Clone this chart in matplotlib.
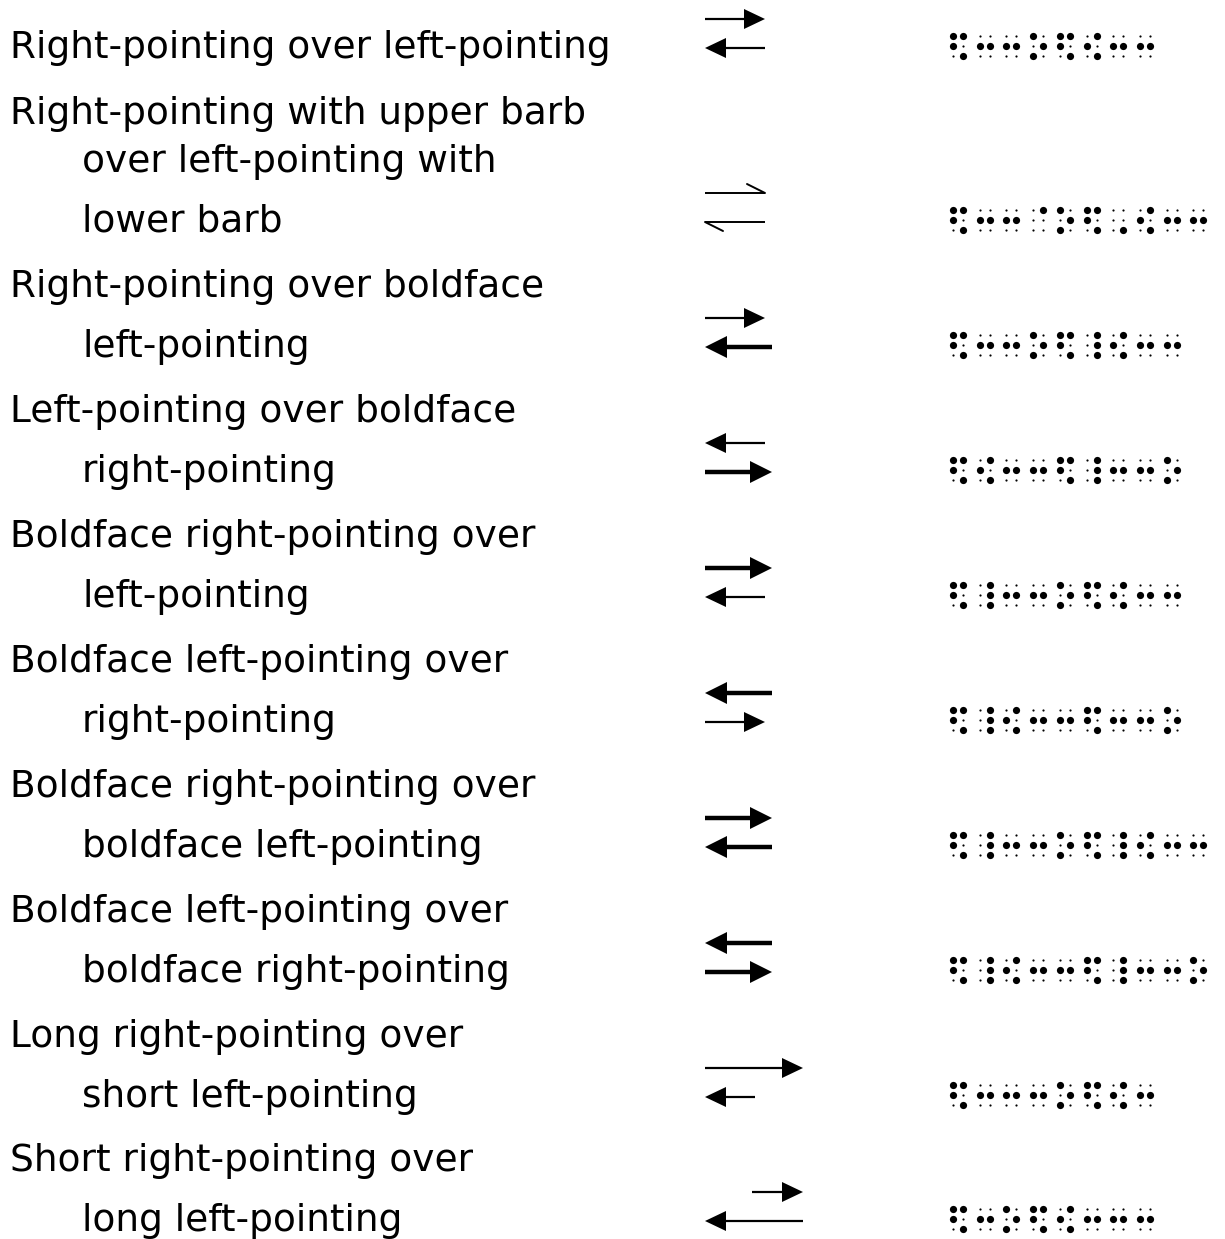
import matplotlib
matplotlib.use("Agg")
import matplotlib.pyplot as plt
from matplotlib.patches import Polygon

# ---------------- data ----------------
labels = [
    ["Right-pointing over left-pointing"],
    ["Right-pointing with upper barb", "over left-pointing with", "lower barb"],
    ["Right-pointing over boldface", "left-pointing"],
    ["Left-pointing over boldface", "right-pointing"],
    ["Boldface right-pointing over", "left-pointing"],
    ["Boldface left-pointing over", "right-pointing"],
    ["Boldface right-pointing over", "boldface left-pointing"],
    ["Boldface left-pointing over", "boldface right-pointing"],
    ["Long right-pointing over", "short left-pointing"],
    ["Short right-pointing over", "long left-pointing"],
]
top_dir = ["R", "R", "R", "L", "R", "L", "R", "L", "R", "R"]
top_style = ["plain", "harpoon", "plain", "plain", "bold", "bold", "bold", "bold", "plain", "plain"]
top_len = ["std", "std", "std", "std", "std", "std", "std", "std", "long", "short"]
bot_dir = ["L", "L", "L", "R", "L", "R", "L", "R", "L", "L"]
bot_style = ["plain", "harpoon", "bold", "bold", "plain", "plain", "bold", "bold", "plain", "plain"]
bot_len = ["std", "std", "std", "std", "std", "std", "std", "std", "short", "long"]
braille = [
    "⠫⠒⠒⠕⠫⠪⠒⠒",
    "⠫⠒⠒⠈⠕⠫⠠⠪⠒⠒",
    "⠫⠒⠒⠕⠫⠸⠪⠒⠒",
    "⠫⠪⠒⠒⠫⠸⠒⠒⠕",
    "⠫⠸⠒⠒⠕⠫⠪⠒⠒",
    "⠫⠸⠪⠒⠒⠫⠒⠒⠕",
    "⠫⠸⠒⠒⠕⠫⠸⠪⠒⠒",
    "⠫⠸⠪⠒⠒⠫⠸⠒⠒⠕",
    "⠫⠒⠒⠒⠕⠫⠪⠒",
    "⠫⠒⠕⠫⠪⠒⠒⠒",
]

# ---------------- layout ----------------
W, H = 1225, 1239
fig = plt.figure(figsize=(W / 100, H / 100), dpi=100)
ax = fig.add_axes([0, 0, 1, 1])
ax.set_xlim(0, W)
ax.set_ylim(H, 0)
ax.axis("off")

row_y = [46, 220, 345, 470, 595, 720, 845, 970, 1095, 1219]
FS = 27
X0, XIND = 10, 82

# text
for i, lines in enumerate(labels):
    n = len(lines)
    if n == 3:
        ys = [row_y[i] - 108, row_y[i] - 60, row_y[i]]
    else:
        ys = [row_y[i] - 60 * (n - 1 - k) for k in range(n)]
    for k, (t, y) in enumerate(zip(lines, ys)):
        ax.text(X0 if k == 0 else XIND, y + 2, t, fontsize=FS, family="DejaVu Sans",
                va="center", ha="left", color="black")

# arrows
AX0 = 705
def arrow(y, d, style, length):
    if length == "long":
        x0, x1 = AX0, AX0 + 98
    elif length == "short":
        x0, x1 = (AX0 + 47, AX0 + 98) if d == "R" else (AX0, AX0 + 50)
    elif style == "bold":
        x0, x1 = AX0, AX0 + 67
    else:
        x0, x1 = AX0, AX0 + 60
    if style == "harpoon":
        ax.plot([x0, x1], [y, y], color="black", lw=1.4, solid_capstyle="butt")
        if d == "R":
            ax.plot([x1, x1 - 18], [y, y - 9], color="black", lw=1.4, solid_capstyle="round")
        else:
            ax.plot([x0, x0 + 18], [y, y + 9], color="black", lw=1.4, solid_capstyle="round")
        return
    lw = 3.2 if style == "bold" else 1.6
    hl = 22 if style == "bold" else 21
    hw = 11 if style == "bold" else 10
    if d == "R":
        ax.plot([x0, x1 - hl + 2], [y, y], color="black", lw=lw, solid_capstyle="butt")
        pts = [(x1, y), (x1 - hl, y - hw), (x1 - hl, y + hw)]
    else:
        ax.plot([x0 + hl - 2, x1], [y, y], color="black", lw=lw, solid_capstyle="butt")
        pts = [(x0, y), (x0 + hl, y - hw), (x0 + hl, y + hw)]
    ax.add_patch(Polygon(pts, closed=True, color="black", lw=0))

for i in range(len(labels)):
    arrow(row_y[i] - 27, top_dir[i], top_style[i], top_len[i])
    arrow(row_y[i] + 2, bot_dir[i], bot_style[i], bot_len[i])

# braille
BX0, PITCH, DOT = 953, 26.7, 10
dot_map = [(0, 0, 0x01), (0, 1, 0x02), (0, 2, 0x04), (1, 0, 0x08), (1, 1, 0x10), (1, 2, 0x20)]
for i, s in enumerate(braille):
    bx, by, sx, sy = [], [], [], []
    for c, ch in enumerate(s):
        bits = ord(ch) - 0x2800
        for col, r, mask in dot_map:
            x = BX0 + c * PITCH + col * DOT
            y = row_y[i] + (r - 1) * DOT
            if bits & mask:
                bx.append(x); by.append(y)
            else:
                sx.append(x); sy.append(y)
    ax.scatter(bx, by, s=27, color="black", lw=0)
    ax.scatter(sx, sy, s=2.5, color="black", lw=0)

fig.savefig("out.png", dpi=100, facecolor="white")
